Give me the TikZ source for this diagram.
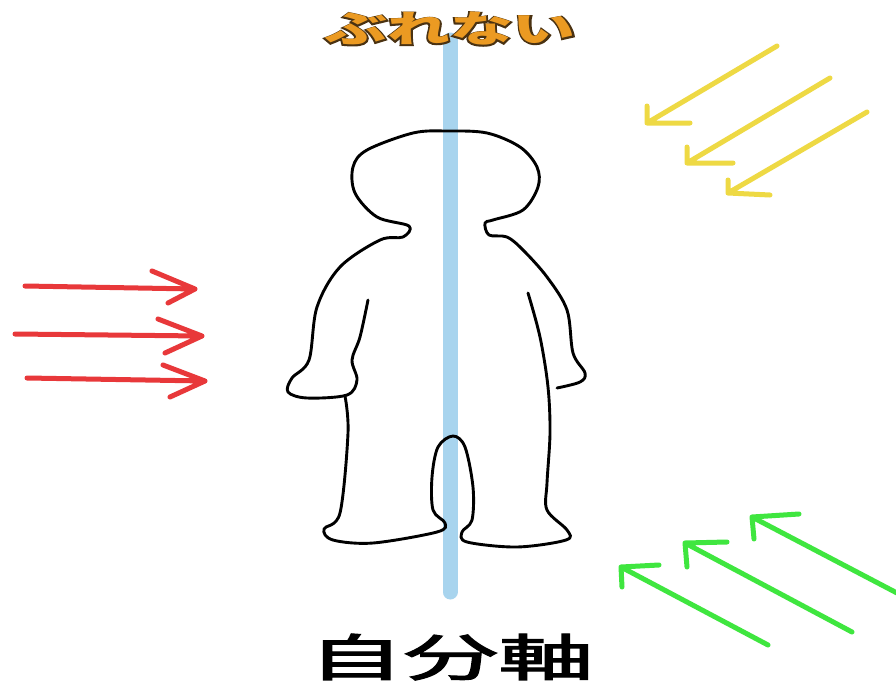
\documentclass[tikz,border=0pt]{standalone}
\usepackage{fontspec}
\newfontfamily\jp{Noto Sans CJK JP}
\newfontfamily\jprim{Noto Sans CJK JP}[BoldFeatures={FakeBold=6}]
\newfontfamily\jpcap{Noto Sans CJK JP}[FakeBold=2.2]
\definecolor{axisblue}{HTML}{A8D4EE}
\definecolor{titleorange}{HTML}{EB9A22}
\definecolor{titleedge}{HTML}{4A3212}
\definecolor{windred}{HTML}{E8383A}
\definecolor{windyellow}{HTML}{EED944}
\definecolor{windgreen}{HTML}{3FE63F}
\tikzset{
  body/.style={draw=black, line width=2.9pt, line cap=round, line join=round},
  wind/.style={line width=5pt, line cap=round, line join=round},
}
\begin{document}
\begin{tikzpicture}[x=1pt,y=-1pt]
\useasboundingbox (0,0) rectangle (896,688);
\fill[white] (0,0) rectangle (896,688);

% the body axis
\draw[axisblue, line width=15pt, line cap=round] (450,40) -- (450,592);

% title: an emboldened dark copy gives the rim, the orange face sits on it
\node (titlerim) [xscale=1.7, text=titleedge, font={\jprim\bfseries\fontsize{37}{37}\selectfont}]
  at (450,29) {ぶれない};
\node (title) [xscale=1.7, text=titleorange, font={\jp\bfseries\fontsize{37}{37}\selectfont}]
  at (450,29) {ぶれない};

% figure: head, arms and shoulders
\draw[body] plot[smooth, tension=0.55] coordinates {
  (557,388) (580,382) (585,373) (573,353) (567,310) (547,277) (523,250)
  (507,237) (489,235) (485,223) (493,220) (523,210) (538,187) (537,167)
  (520,147) (487,133) (447,131) (413,133) (367,150) (353,167) (355,193)
  (377,217) (409,226) (403,237) (380,240) (340,267) (317,307) (309,360)
  (292,378) (288,392) (307,398) (347,395) (357,380) (352,360) (360,337) (368,300)};
% figure: legs and feet
\draw[body] plot[smooth, tension=0.55] coordinates {
  (345,396) (348,433) (340,513) (324,529) (333,540) (373,543) (437,532)
  (445,523) (433,510) (432,477) (438,447) (453,436) (465,447) (473,487)
  (472,520) (462,532) (467,542) (517,547) (566,540) (567,530) (547,510)
  (547,483) (550,433) (548,387) (540,337) (528,293)};

% red arrows from the left
\draw[wind, windred] (25,286) -- (195,289) (152,271) -- (195,289) -- (168,303);
\draw[wind, windred] (15,334) -- (202,336) (158,319) -- (202,336) -- (165,353);
\draw[wind, windred] (27,378) -- (205,381) (163,365) -- (205,381) -- (170,397);

% yellow arrows from the upper right
\draw[wind, windyellow] (777,46) -- (647,123) (647,106) -- (647,123) -- (690,123);
\draw[wind, windyellow] (830,78) -- (687,163) (687,147) -- (687,163) -- (733,163);
\draw[wind, windyellow] (867,112) -- (728,193) (728,180) -- (728,193) -- (770,195);

% green arrows from the lower right
\draw[wind, windgreen] (768,645) -- (621,567) (622,587) -- (621,567) -- (659,565);
\draw[wind, windgreen] (852,632) -- (685,543) (687,567) -- (685,543) -- (727,542);
\draw[wind, windgreen] (897,593) -- (752,517) (754,539) -- (752,517) -- (799,514);

% caption
\node (caption) [xscale=1.9, font={\jpcap\fontsize{50}{50}\selectfont}] at (451,657) {自分軸};
\end{tikzpicture}
\end{document}
